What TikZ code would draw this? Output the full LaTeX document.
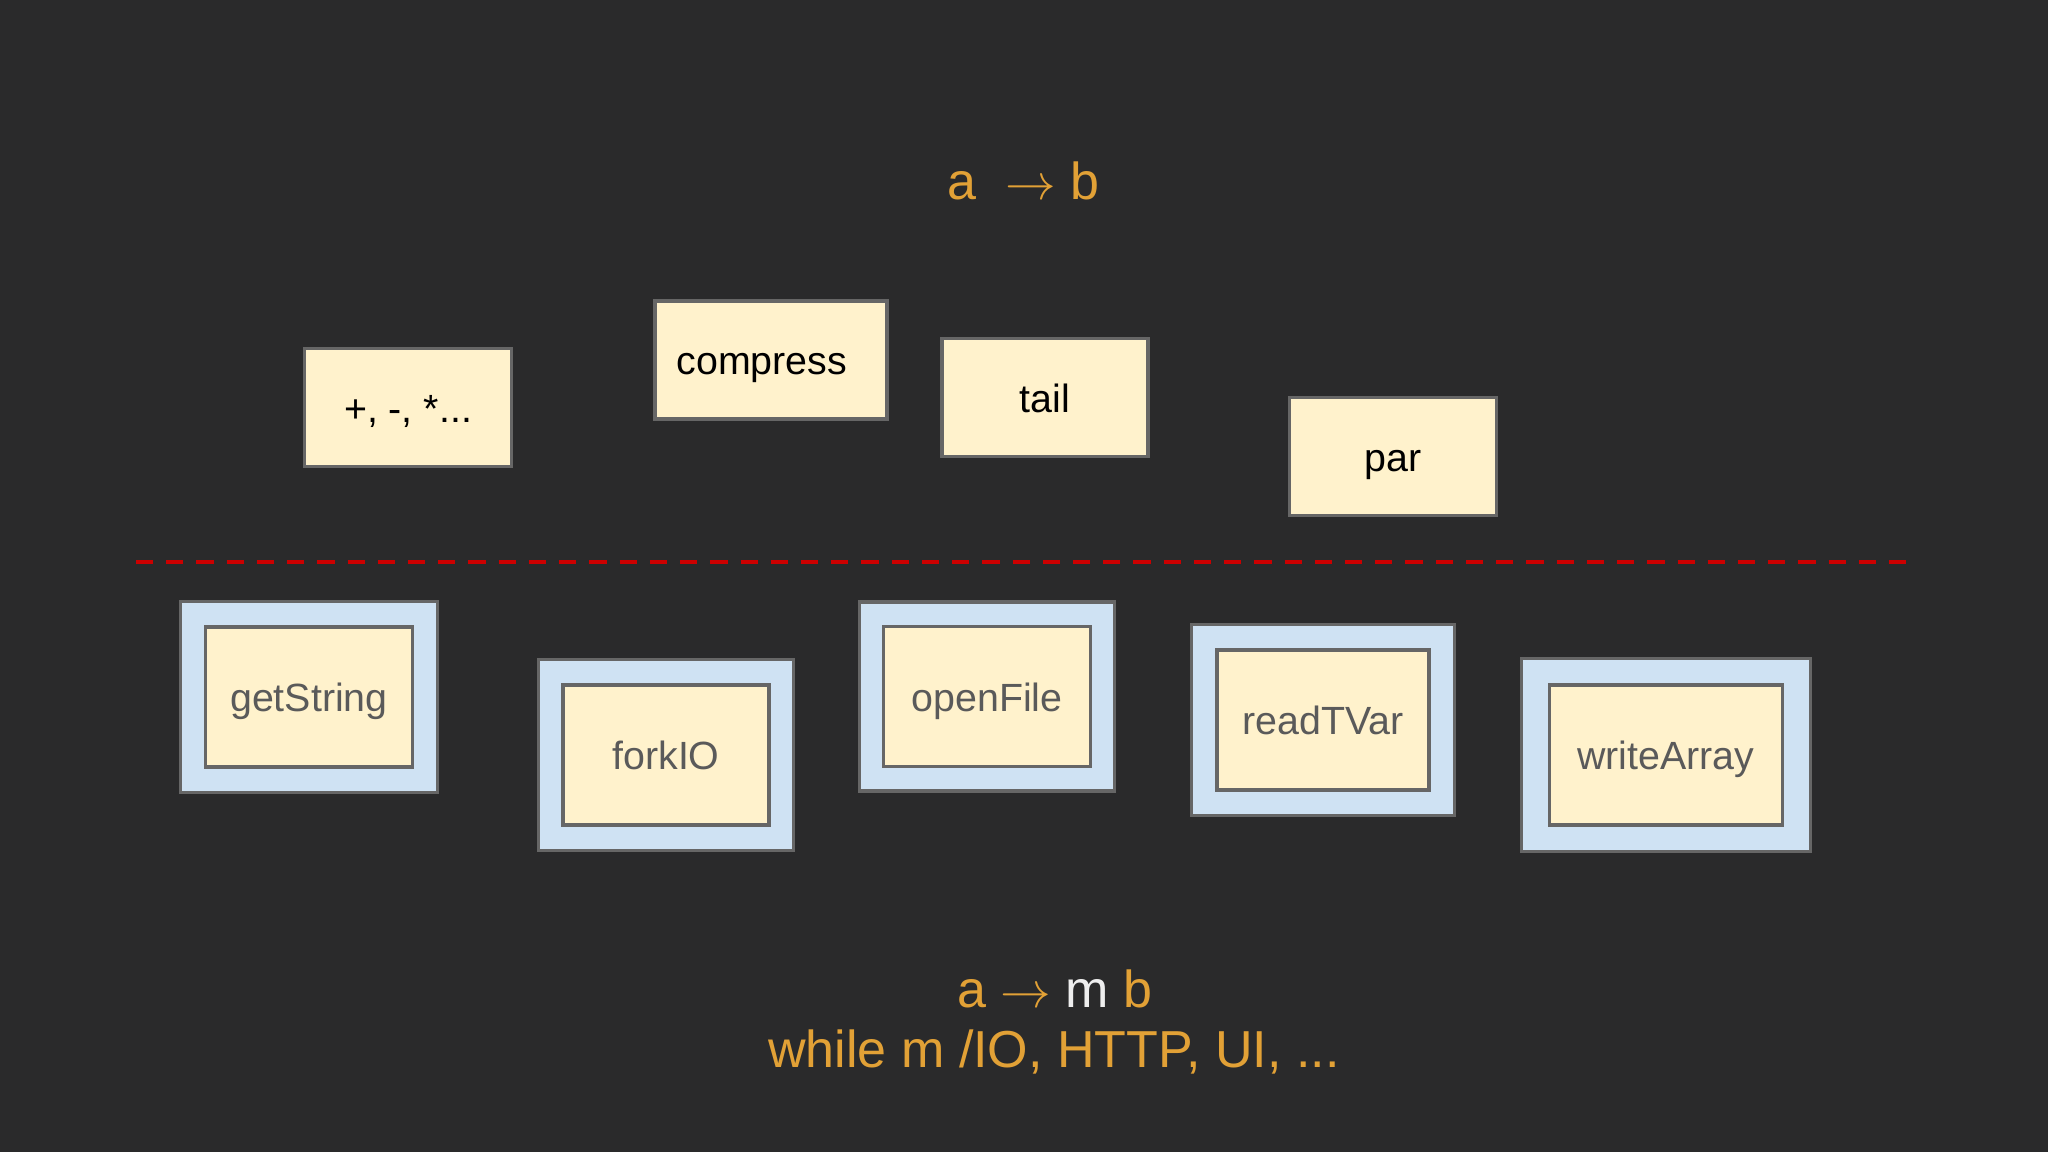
\documentclass[tikz,border=0pt]{standalone}
\usepackage{fontspec}
\setmainfont{Liberation Sans}
\usepackage{tikz}

\definecolor{bg}{HTML}{2A2A2B}
\definecolor{paper}{HTML}{FFF2CC}
\definecolor{wrapblue}{HTML}{CFE2F3}
\definecolor{edge}{HTML}{666666}
\definecolor{gold}{HTML}{E2A136}
\definecolor{ink}{HTML}{5A5A5A}
\definecolor{sepred}{HTML}{CC0000}
\definecolor{mono}{HTML}{EEEEEE}

\begin{document}
\begin{tikzpicture}[
    every node/.style={font=\fontsize{11.2}{13.5}\selectfont},
    pure/.style={draw=edge, line width=1pt, fill=paper, minimum height=1.18cm,
        text height=0.84em, text depth=0pt},
    wrapped/.style={draw=edge, line width=1pt, fill=wrapblue, minimum height=1.91cm},
    inner/.style={draw=edge, line width=1pt, fill=paper, minimum height=1.40cm, text=ink,
        text height=0.84em, text depth=0pt},
    sigtext/.style={text=gold, font=\fontsize{14.8}{17}\selectfont, anchor=base}
]

\fill[bg] (0,0) rectangle (20.48,11.52);
\useasboundingbox (0,0) rectangle (20.48,11.52);

\node[sigtext] (puresig) at (10.235,9.52) {a\ \ $\rightarrow$\ b};

% pure functions
\node[pure, minimum width=2.07cm] (ops) at (4.08,7.445) {+, -, *...};
\node[pure, minimum width=2.32cm, inner sep=0pt, text width=1.89cm, align=left]
    (compress) at (7.71,7.92) {compress};
\node[pure, minimum width=2.06cm] (tail) at (10.45,7.545) {tail};
\node[pure, minimum width=2.07cm] (par) at (13.93,6.955) {par};

\coordinate (sepL) at (1.36,5.90);
\coordinate (sepR) at (19.13,5.90);
\draw[sepred, line width=1.3pt, dash pattern=on 4.9pt off 3.7pt] (sepL) -- (sepR);

% effectful functions
\node[wrapped, minimum width=2.57cm] (getStringW) at (3.09,4.55) {};
\node[inner, minimum width=2.07cm] (getString) at (getStringW) {getString};

\node[wrapped, minimum width=2.55cm] (forkIOW) at (6.66,3.97) {};
\node[inner, minimum width=2.06cm] (forkIO) at (forkIOW) {forkIO};

\node[wrapped, minimum width=2.55cm, minimum height=1.89cm] (openFileW) at (9.87,4.555) {};
\node[inner, minimum width=2.07cm] (openFile) at (openFileW) {openFile};

\node[wrapped, minimum width=2.63cm] (readTVarW) at (13.23,4.32) {};
\node[inner, minimum width=2.12cm] (readTVar) at (readTVarW) {readTVar};

\node[wrapped, minimum width=2.89cm, minimum height=1.93cm] (writeArrayW) at (16.66,3.97) {};
\node[inner, minimum width=2.33cm] (writeArray) at (writeArrayW) {writeArray};

\node[sigtext] (iosig) at (10.55,1.44) {a $\rightarrow$ {\color{mono}m} b};
\node[sigtext] (while) at (10.54,0.84) {while m /IO, HTTP, UI, ...};

\end{tikzpicture}
\end{document}
